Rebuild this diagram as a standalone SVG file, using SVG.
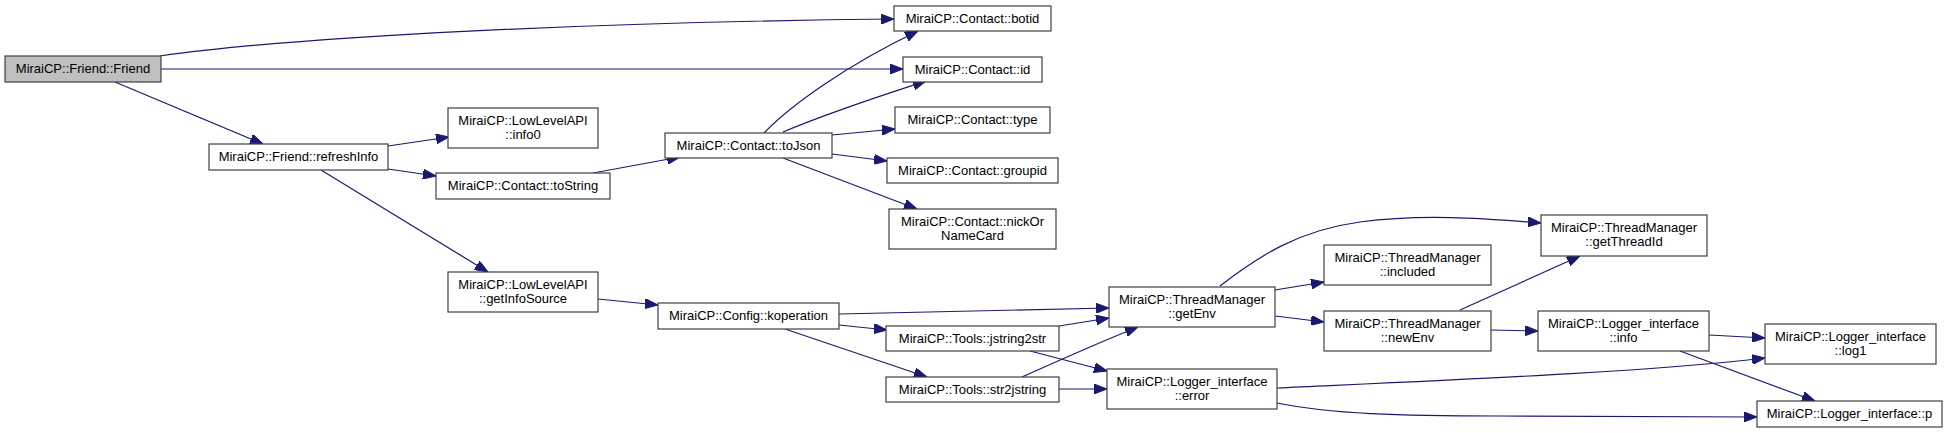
<svg xmlns="http://www.w3.org/2000/svg" width="1949" height="433" viewBox="0 0 1949 433">
<style>
.n rect{fill:#fff;stroke:#404040;stroke-width:1.2}
.n.root rect{fill:#bfbfbf}
.n text{font-family:"Liberation Sans",Arial,sans-serif;font-size:13px;fill:#000;text-anchor:middle}
.e path{fill:none;stroke:#191970;stroke-width:1.2;marker-end:url(#a)}
</style>
<defs>
<marker id="a" markerUnits="userSpaceOnUse" markerWidth="13" markerHeight="10" refX="13" refY="5" orient="auto">
<path d="M0,0 L13,5 L0,10 z" fill="#191970" stroke="#191970" stroke-width="1"/>
</marker>
</defs>
<rect width="1949" height="433" fill="#fff"/>
<g id="edges" class="e">
<path d="M160,56 C300,36 600,22 894,19"/>
<path d="M161,69 L903,69"/>
<path d="M115,82 L263,144"/>
<path d="M388,146 L449,137"/>
<path d="M388,169 L436,176"/>
<path d="M321,170 L488,272"/>
<path d="M593,173 L680,157"/>
<path d="M764,133 C790,106 845,66 918,31"/>
<path d="M783,132 C830,112 880,96 926,81"/>
<path d="M832,135 L895,129"/>
<path d="M832,154 L887,161"/>
<path d="M783,158 L917,209"/>
<path d="M598,299 L658,305"/>
<path d="M839,314 L1109,308"/>
<path d="M839,325 L887,330"/>
<path d="M785,329 L927,377"/>
<path d="M1059,326 L1109,318"/>
<path d="M1030,351 L1107,371"/>
<path d="M1022,377 C1060,360 1100,342 1138,327"/>
<path d="M1059,389 L1107,389"/>
<path d="M1220,286 C1260,255 1300,230 1360,222 C1420,214 1480,218 1541,223"/>
<path d="M1275,290 L1324,282"/>
<path d="M1275,316 L1324,322"/>
<path d="M1460,310 L1580,256"/>
<path d="M1491,330 L1538,331"/>
<path d="M1709,335 L1765,338"/>
<path d="M1680,351 L1815,401"/>
<path d="M1277,388 C1450,380 1650,372 1765,358"/>
<path d="M1277,403 C1330,414 1400,416 1500,416 L1757,417"/>
</g>
<g id="n_friend" class="n root"><rect x="5" y="56" width="156" height="26"/><text x="83" y="73">MiraiCP::Friend::Friend</text></g>
<g id="n_refreshInfo" class="n"><rect x="209" y="144" width="179" height="26"/><text x="298.5" y="161">MiraiCP::Friend::refreshInfo</text></g>
<g id="n_info0" class="n"><rect x="448" y="108" width="150" height="40"/><text x="523" y="124.5">MiraiCP::LowLevelAPI</text><text x="523" y="138.5">::info0</text></g>
<g id="n_toString" class="n"><rect x="436" y="173" width="174" height="26"/><text x="523" y="190">MiraiCP::Contact::toString</text></g>
<g id="n_toJson" class="n"><rect x="665" y="133" width="167" height="25"/><text x="748.5" y="149.5">MiraiCP::Contact::toJson</text></g>
<g id="n_botid" class="n"><rect x="894" y="6" width="157" height="25"/><text x="972.5" y="22.5">MiraiCP::Contact::botid</text></g>
<g id="n_id" class="n"><rect x="903" y="57" width="139" height="25"/><text x="972.5" y="73.5">MiraiCP::Contact::id</text></g>
<g id="n_type" class="n"><rect x="895" y="107" width="155" height="26"/><text x="972.5" y="124">MiraiCP::Contact::type</text></g>
<g id="n_groupid" class="n"><rect x="887" y="158" width="171" height="25"/><text x="972.5" y="174.5">MiraiCP::Contact::groupid</text></g>
<g id="n_nick" class="n"><rect x="889" y="209" width="167" height="40"/><text x="972.5" y="225.5">MiraiCP::Contact::nickOr</text><text x="972.5" y="239.5">NameCard</text></g>
<g id="n_getInfoSource" class="n"><rect x="448" y="272" width="150" height="40"/><text x="523" y="288.5">MiraiCP::LowLevelAPI</text><text x="523" y="302.5">::getInfoSource</text></g>
<g id="n_koperation" class="n"><rect x="658" y="303" width="181" height="26"/><text x="748.5" y="320">MiraiCP::Config::koperation</text></g>
<g id="n_jstring2str" class="n"><rect x="886" y="326" width="173" height="25"/><text x="972.5" y="342.5">MiraiCP::Tools::jstring2str</text></g>
<g id="n_str2jstring" class="n"><rect x="886" y="377" width="173" height="25"/><text x="972.5" y="393.5">MiraiCP::Tools::str2jstring</text></g>
<g id="n_getEnv" class="n"><rect x="1109" y="287" width="166" height="40"/><text x="1192" y="303.5">MiraiCP::ThreadManager</text><text x="1192" y="317.5">::getEnv</text></g>
<g id="n_error" class="n"><rect x="1107" y="369" width="170" height="40"/><text x="1192" y="385.5">MiraiCP::Logger_interface</text><text x="1192" y="399.5">::error</text></g>
<g id="n_included" class="n"><rect x="1324" y="245" width="167" height="40"/><text x="1407.5" y="261.5">MiraiCP::ThreadManager</text><text x="1407.5" y="275.5">::included</text></g>
<g id="n_newEnv" class="n"><rect x="1324" y="311" width="167" height="40"/><text x="1407.5" y="327.5">MiraiCP::ThreadManager</text><text x="1407.5" y="341.5">::newEnv</text></g>
<g id="n_getThreadId" class="n"><rect x="1541" y="215" width="166" height="41"/><text x="1624" y="231.5">MiraiCP::ThreadManager</text><text x="1624" y="245.5">::getThreadId</text></g>
<g id="n_info" class="n"><rect x="1538" y="311" width="171" height="40"/><text x="1623.5" y="327.5">MiraiCP::Logger_interface</text><text x="1623.5" y="341.5">::info</text></g>
<g id="n_log1" class="n"><rect x="1765" y="324" width="171" height="40"/><text x="1850.5" y="340.5">MiraiCP::Logger_interface</text><text x="1850.5" y="354.5">::log1</text></g>
<g id="n_p" class="n"><rect x="1757" y="401" width="185" height="26"/><text x="1849.5" y="418">MiraiCP::Logger_interface::p</text></g>
</svg>
